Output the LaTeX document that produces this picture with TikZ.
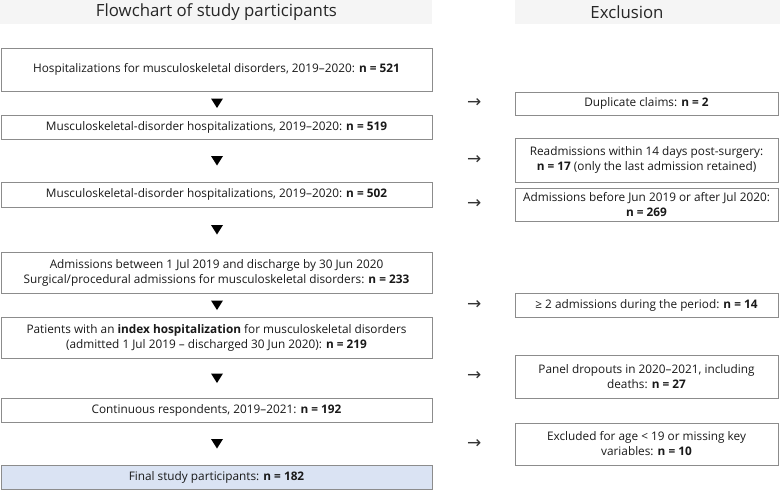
\documentclass[tikz,border=0pt]{standalone}
\usepackage{fontspec}
\setmainfont{Open Sans}
\newfontfamily\arrowfont{DejaVu Sans}
\usetikzlibrary{positioning}
\definecolor{bandgray}{HTML}{F5F5F5}
\definecolor{boxline}{HTML}{8C8C8C}
\definecolor{finalblue}{HTML}{DAE3F3}

\begin{document}
\begin{tikzpicture}[x=1pt,y=-1pt,
  every node/.style={font=\fontsize{11.8}{15}\selectfont,text=black!90},
  leftbox/.style={draw=boxline,line width=0.8pt,fill=white,minimum width=431pt,inner sep=0pt,align=center},
  rightbox/.style={draw=boxline,line width=0.8pt,fill=white,minimum width=263pt,inner sep=0pt,align=center},
  headtext/.style={font=\fontsize{16.8}{18}\selectfont,text=black!85},
  sidearrow/.style={inner sep=0pt,font=\arrowfont\fontsize{17}{17}\selectfont,text=black!80}]
\useasboundingbox (0,0) rectangle (780,490);
% title bands
\fill[bandgray] (0,0) rectangle (432,24);
\fill[bandgray] (515,0) rectangle (780,24);
\node[headtext] (headL) at (216.5,12.5) {Flowchart of study participants};
\node[headtext] (headR) at (627,12.5) {Exclusion};
% main column
\node[leftbox,minimum height=43pt] (b1) at (216.5,69.5) {Hospitalizations for musculoskeletal disorders, 2019--2020: \textbf{n = 521}};
\node[leftbox,minimum height=24pt] (b2) at (216.5,127) {Musculoskeletal-disorder hospitalizations, 2019--2020: \textbf{n = 519}};
\node[leftbox,minimum height=25pt] (b3) at (216.5,194.5) {Musculoskeletal-disorder hospitalizations, 2019--2020: \textbf{n = 502}};
\node[leftbox,minimum height=41pt] (b4) at (216.5,272.5) {Admissions between 1 Jul 2019 and discharge by 30 Jun 2020\\Surgical/procedural admissions for musculoskeletal disorders: \textbf{n = 233}};
\node[leftbox,minimum height=41pt] (b5) at (216.5,337.5) {Patients with an \textbf{index hospitalization} for musculoskeletal disorders\\(admitted 1 Jul 2019 -- discharged 30 Jun 2020): \textbf{n = 219}};
\node[leftbox,minimum height=24pt] (b6) at (216.5,410) {Continuous respondents, 2019--2021: \textbf{n = 192}};
\node[leftbox,minimum height=24pt,fill=finalblue] (b7) at (216.5,477) {Final study participants: \textbf{n = 182}};
% exclusion column
\node[rightbox,minimum height=23pt] (r1) at (646.5,103.5) {Duplicate claims: \textbf{n = 2}};
\node[rightbox,minimum height=44pt] (r2) at (646.5,160) {Readmissions within 14 days post-surgery:\\\textbf{n = 17} (only the last admission retained)};
\node[rightbox,minimum height=33pt] (r3) at (646.5,204.5) {Admissions before Jun 2019 or after Jul 2020:\\\textbf{n = 269}};
\node[rightbox,minimum height=24pt] (r4) at (646.5,305) {≥ 2 admissions during the period: \textbf{n = 14}};
\node[rightbox,minimum height=43pt] (r5) at (646.5,376.5) {Panel dropouts in 2020--2021, including\\deaths: \textbf{n = 27}};
\node[rightbox,minimum height=42pt] (r6) at (646.5,444) {Excluded for age < 19 or missing key\\variables: \textbf{n = 10}};
% down triangles
\foreach \ty in {103,160.5,229.5,305,378,443.5}
  \fill (211,\ty-4.5) -- (223,\ty-4.5) -- (217,\ty+5) -- cycle;
% side arrows
\foreach \r in {r1,r2,r3,r4,r5,r6}
  \node[sidearrow,left=33pt of \r.west] (a\r) {→};
\end{tikzpicture}
\end{document}
